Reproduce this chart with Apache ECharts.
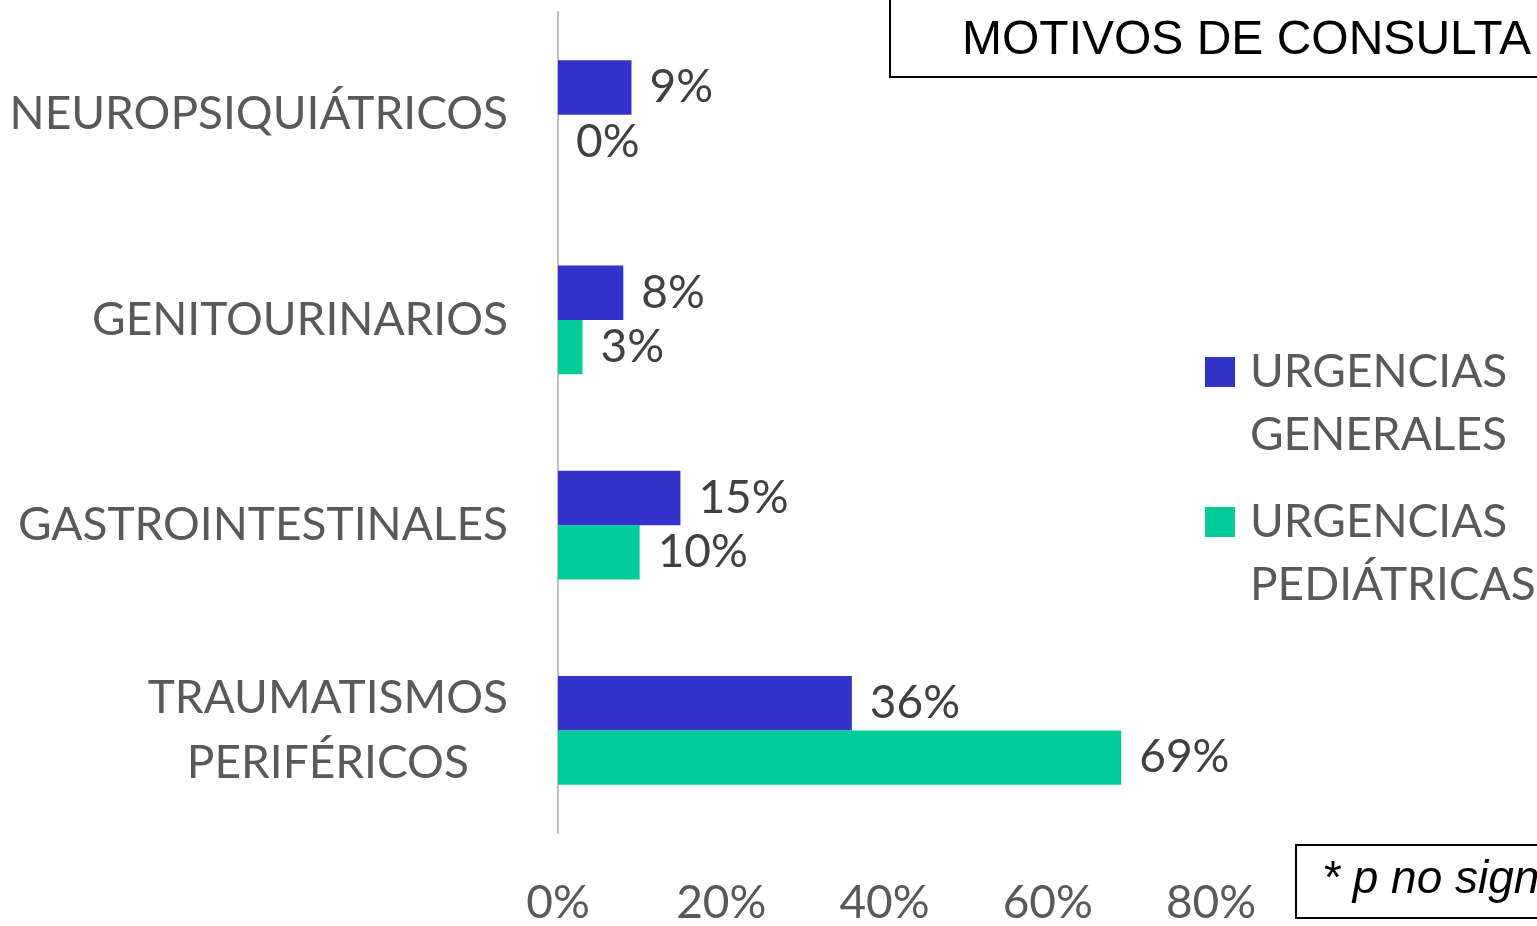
<!DOCTYPE html>
<html>
<head>
<meta charset="utf-8">
<script src="https://cdn.jsdelivr.net/npm/echarts@6/dist/echarts.min.js"></script>
<style>
html,body{margin:0;padding:0;background:#fff;}
#chart{width:1537px;height:926px;}
</style>
</head>
<body>
<div id="chart"></div>
<script>
var categories = ['NEUROPSIQUIÁTRICOS', 'GENITOURINARIOS', 'GASTROINTESTINALES', 'TRAUMATISMOS\nPERIFÉRICOS'];
var seriesNames = ['URGENCIAS\nGENERALES', 'URGENCIAS\nPEDIÁTRICAS'];
var generales = [9, 8, 15, 36];
var pediatricas = [0, 3, 10, 69];
var xTicks = [0, 20, 40, 60, 80];
var titleText = 'MOTIVOS DE CONSULTA';
var noteText = '* p no significativa';

var FONT = 'Lato';
var chart = echarts.init(document.getElementById('chart'));
var labelStyle = {
  show: true, position: 'right', distance: 18,
  formatter: '{c}%', color: '#404040', fontSize: 46, fontFamily: FONT
};
function legendFor(name, top) {
  return {
    data: [name], left: 1205, top: top, padding: 0, orient: 'vertical',
    icon: 'rect', itemWidth: 30, itemHeight: 30,
    formatter: function (n) {
      return '{e| }\n' + n.split('\n').map(function (s) { return '{a|' + s + '}'; }).join('\n');
    },
    textStyle: {
      color: '#595959', fontSize: 46, fontFamily: FONT, lineHeight: 63,
      rich: {
        e: { fontSize: 10, lineHeight: 63 },
        a: { color: '#595959', fontSize: 46, fontFamily: FONT, lineHeight: 63, padding: [0, 0, 0, 10] }
      }
    }
  };
}
chart.setOption({
  animation: false,
  backgroundColor: '#fff',
  grid: { left: 558, right: 326, top: 12, bottom: 89, containLabel: false },
  legend: [legendFor(seriesNames[0], 277.5), legendFor(seriesNames[1], 427.5)],
  xAxis: {
    type: 'value', min: xTicks[0], max: xTicks[xTicks.length - 1], interval: 20,
    axisLine: { show: false }, axisTick: { show: false }, splitLine: { show: false },
    axisLabel: { formatter: '{value}%', color: '#595959', fontSize: 46, fontFamily: FONT, margin: 47 }
  },
  yAxis: {
    type: 'category', data: categories, inverse: true,
    axisLine: { show: true, lineStyle: { color: '#BFBFBF', width: 2 } },
    axisTick: { show: false },
    axisLabel: {
      margin: 50, color: '#595959', fontSize: 46, fontFamily: FONT, lineHeight: 65, align: 'right',
      formatter: function (v) { return v.split('\n').map(function (s) { return '{c|' + s + '}'; }).join('\n'); },
      rich: { c: { align: 'center', color: '#595959', fontSize: 46, fontFamily: FONT, lineHeight: 65 } }
    }
  },
  series: [
    { name: seriesNames[0], type: 'bar', data: generales, itemStyle: { color: '#3333CC' },
      barGap: '0%', barCategoryGap: '47%', label: labelStyle },
    { name: seriesNames[1], type: 'bar', data: pediatricas, itemStyle: { color: '#00CC99' },
      barGap: '0%', barCategoryGap: '47%', label: labelStyle }
  ],
  graphic: [
    { type: 'rect', shape: { x: 890, y: -10, width: 700, height: 87 }, style: { fill: 'none', stroke: '#000', lineWidth: 2 } },
    { type: 'text', left: 962, top: 17, style: { text: titleText, font: '48px "Liberation Sans", Arial, sans-serif', fill: '#000' } },
    { type: 'rect', shape: { x: 1296, y: 845, width: 300, height: 73 }, style: { fill: 'none', stroke: '#000', lineWidth: 2 } },
    { type: 'text', left: 1322, top: 857, style: { text: noteText, font: 'italic 46px "Liberation Sans", Arial, sans-serif', fill: '#000' } }
  ]
});
</script>
</body>
</html>
